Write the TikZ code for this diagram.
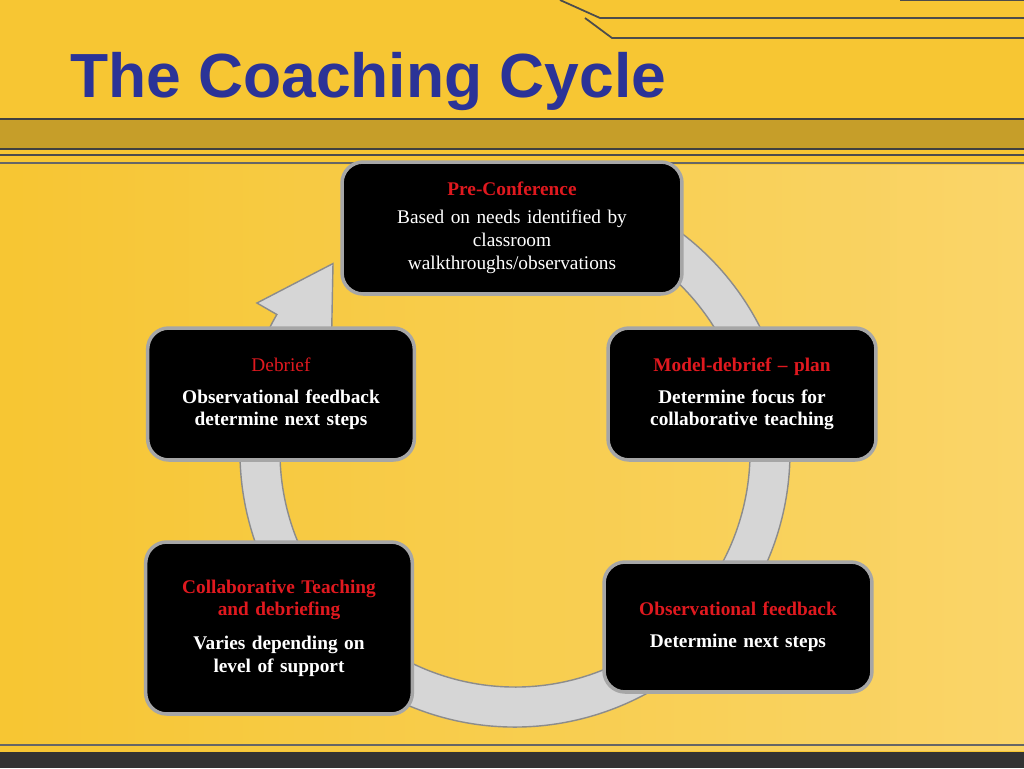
\documentclass[tikz,border=0pt]{standalone}
\usepackage{fontspec}
\setmainfont{Liberation Serif}
\newfontfamily\titlefont{Liberation Sans}
\usetikzlibrary{calc}
\definecolor{bgyellow}{HTML}{F7C633}
\definecolor{bglight}{HTML}{FBD977}
\definecolor{titleblue}{HTML}{2B3397}
\definecolor{headred}{HTML}{E0191F}
\definecolor{bandgray}{HTML}{D6D6D6}
\definecolor{edgegray}{HTML}{8C8C8C}
\tikzset{
    stagebox/.style={rounded corners=12pt, fill=black, draw=gray!70, line width=2pt,
        text=white, align=center, font=\fontsize{11}{13}\selectfont},
    stagehead/.style={text=headred}
}
\begin{document}
\begin{tikzpicture}[x=0.02cm, y=-0.02cm]
    \useasboundingbox (0,0) rectangle (1024,768);
    % background
    \fill[bgyellow] (0,0) rectangle (1024,768);
    \shade[left color=bgyellow, right color=bglight, opacity=0.8] (0,165) rectangle (1024,750);
    \fill[black!75] (0,118) rectangle (1024,150);
    \fill[bgyellow!80!black] (0,120) rectangle (1024,148);
    \draw[black!70, line width=1.5pt] (0,155) -- (1024,155);
    \draw[black!60, line width=0.6pt] (0,163) -- (1024,163);
    \draw[black!70, line width=1pt] (560,0) -- (600,18) -- (1024,18);
    \draw[black!70, line width=1pt] (900,0) -- (1024,0);
    \draw[black!70, line width=1pt] (585,18) -- (612,38) -- (1024,38);
    \fill[black!80] (0,752) rectangle (1024,768);
    \draw[black!60, line width=0.6pt] (0,745) -- (1024,745);
    % title
    \node[anchor=west, text=titleblue, font=\titlefont\bfseries\fontsize{35.5}{40}\selectfont] (title) at (64,82) {The Coaching Cycle};
    % cycle arrow
    \coordinate (C) at (515,452);
    \filldraw[fill=bandgray, draw=edgegray, line width=0.8pt]
        ($(C)+(-80:235)$) arc[start angle=-80, end angle=210, radius=235]
        -- ($(C)+(210:212)$) -- ($(C)+(226:262)$) -- ($(C)+(210:298)$)
        -- ($(C)+(210:275)$) arc[start angle=210, end angle=-80, radius=275] -- cycle;
    % stages
    \node[stagebox, minimum width=6.8cm, minimum height=2.64cm, text width=6.2cm] at (512,228) (pre)
        {{\bfseries\color{headred}Pre-Conference}\\[3pt]Based on needs identified by\\classroom\\walkthroughs/observations};
    \node[stagebox, minimum width=5.36cm, minimum height=2.64cm, text width=5.1cm, font=\fontsize{11}{13}\selectfont\bfseries] at (742,394) (model)
        {{\color{headred}Model-debrief -- plan}\\[5pt]Determine focus for\\collaborative teaching};
    \node[stagebox, minimum width=5.36cm, minimum height=2.6cm, text width=5.1cm, font=\fontsize{11}{13}\selectfont\bfseries] at (738,627) (obs)
        {{\color{headred}Observational feedback}\\[5pt]Determine next steps};
    \node[stagebox, minimum width=5.32cm, minimum height=3.44cm, text width=5.1cm, font=\fontsize{11}{13}\selectfont\bfseries] at (279,628) (collab)
        {{\color{headred}Collaborative Teaching\\and debriefing}\\[6pt]Varies depending on\\level of support};
    \node[stagebox, minimum width=5.32cm, minimum height=2.64cm, text width=5.1cm, font=\fontsize{11}{13}\selectfont\bfseries] at (281,394) (debrief)
        {{\mdseries\color{headred}Debrief}\\[5pt]Observational feedback\\determine next steps};
\end{tikzpicture}
\end{document}
